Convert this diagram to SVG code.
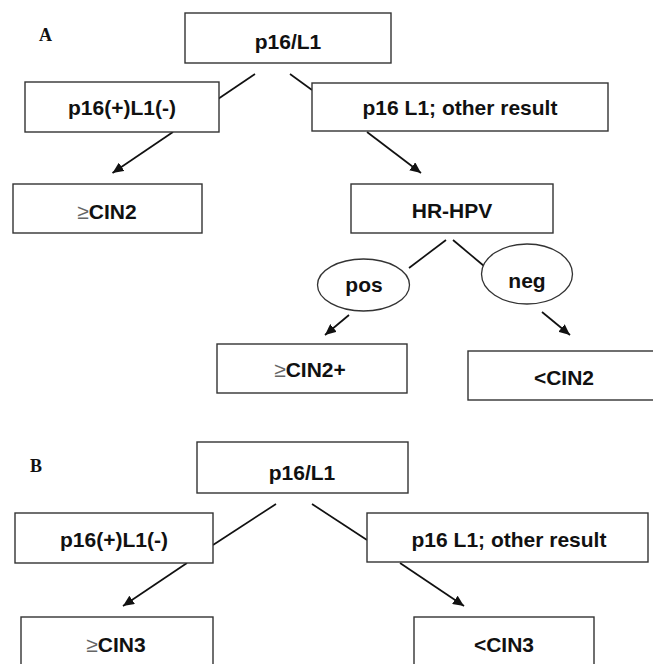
<svg xmlns="http://www.w3.org/2000/svg" width="653" height="664" viewBox="0 0 653 664">
<defs>
<style>
.box{fill:#fff;stroke:#333;stroke-width:1.4}
.ell{fill:#fff;stroke:#333;stroke-width:1.3}
.t{font-family:"Liberation Sans",Arial,sans-serif;font-weight:bold;font-size:21px;fill:#111;text-anchor:middle}
.ge{fill:#666;font-weight:normal}
.lbl{font-family:"Liberation Serif","Times New Roman",serif;font-weight:bold;font-size:18px;fill:#111}
.ln{stroke:#111;stroke-width:1.7;fill:none}
.ar{stroke:#111;stroke-width:1.7;fill:none;marker-end:url(#ah)}
</style>
<marker id="ah" markerUnits="userSpaceOnUse" markerWidth="12" markerHeight="10" refX="11" refY="5" orient="auto">
<path d="M0,0 L11,5 L0,10 z" fill="#111"/>
</marker>
</defs>
<rect width="653" height="664" fill="#fff"/>

<text class="lbl" x="39" y="41">A</text>
<text class="lbl" x="30" y="472">B</text>

<g id="connectors">
<line class="ln" x1="255" y1="74" x2="218" y2="99"/>
<line class="ln" x1="290" y1="74" x2="312" y2="90"/>
<line class="ar" x1="173" y1="132" x2="112.5" y2="173"/>
<line class="ar" x1="367" y1="132" x2="421" y2="173"/>
<line class="ln" x1="446" y1="240" x2="409" y2="268"/>
<line class="ln" x1="453" y1="240" x2="484" y2="266"/>
<line class="ar" x1="349" y1="315" x2="325" y2="335"/>
<line class="ar" x1="542" y1="312" x2="570" y2="335"/>
<line class="ln" x1="276" y1="504" x2="213" y2="545"/>
<line class="ln" x1="312" y1="504" x2="367" y2="540"/>
<line class="ar" x1="187" y1="563" x2="123" y2="606"/>
<line class="ar" x1="400" y1="563" x2="464" y2="606"/>
</g>

<g id="a-p16l1"><rect class="box" x="185" y="13" width="206" height="50"/><text class="t" x="288" y="49">p16/L1</text></g>
<g id="a-pos-neg"><rect class="box" x="25" y="82" width="194" height="50"/><text class="t" x="122" y="115">p16(+)L1(-)</text></g>
<g id="a-other"><rect class="box" x="312" y="83" width="296" height="48"/><text class="t" x="460" y="115">p16 L1; other result</text></g>
<g id="a-cin2"><rect class="box" x="13" y="184" width="189" height="49"/><text class="t" x="107" y="219"><tspan class="ge">≥</tspan>CIN2</text></g>
<g id="a-hrhpv"><rect class="box" x="351" y="184" width="202" height="49"/><text class="t" x="452" y="218">HR-HPV</text></g>
<g id="a-pos"><ellipse class="ell" cx="363.5" cy="285" rx="46" ry="26"/><text class="t" x="364" y="292">pos</text></g>
<g id="a-neg"><ellipse class="ell" cx="527" cy="274" rx="45.5" ry="30"/><text class="t" x="527" y="288">neg</text></g>
<g id="a-cin2plus"><rect class="box" x="217" y="344" width="190" height="49"/><text class="t" x="310" y="377"><tspan class="ge">≥</tspan>CIN2+</text></g>
<g id="a-ltcin2"><rect class="box" x="468" y="351" width="190" height="49"/><text class="t" x="564" y="385">&lt;CIN2</text></g>

<g id="b-p16l1"><rect class="box" x="197" y="442" width="211" height="51"/><text class="t" x="302" y="480">p16/L1</text></g>
<g id="b-pos-neg"><rect class="box" x="15" y="513" width="198" height="50"/><text class="t" x="114" y="547">p16(+)L1(-)</text></g>
<g id="b-other"><rect class="box" x="367" y="513" width="281" height="49"/><text class="t" x="509" y="547">p16 L1; other result</text></g>
<g id="b-cin3"><rect class="box" x="21" y="617" width="192" height="55"/><text class="t" x="116" y="652"><tspan class="ge">≥</tspan>CIN3</text></g>
<g id="b-ltcin3"><rect class="box" x="414" y="617" width="180" height="55"/><text class="t" x="504" y="652">&lt;CIN3</text></g>
</svg>
